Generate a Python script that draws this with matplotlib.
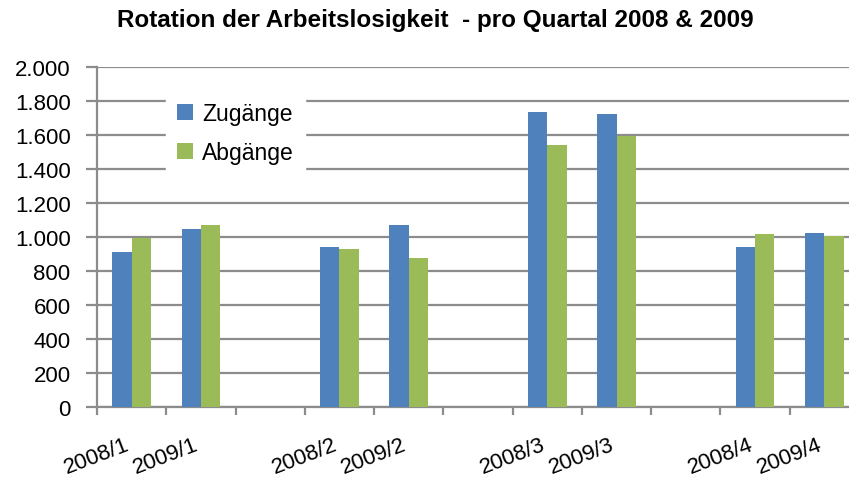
import numpy as np
import matplotlib.pyplot as plt
from matplotlib.transforms import ScaledTranslation

plt.rcParams['font.family'] = ['Liberation Sans', 'DejaVu Sans']

# ---- data ----
categories = ['2008/1', '2009/1', '', '2008/2', '2009/2', '',
              '2008/3', '2009/3', '', '2008/4', '2009/4']
zugaenge = [910, 1047, np.nan, 939, 1069, np.nan, 1733, 1724, np.nan, 939, 1025]
abgaenge = [995, 1071, np.nan, 929, 876, np.nan, 1541, 1596, np.nan, 1016, 1004]
yticks = [0, 200, 400, 600, 800, 1000, 1200, 1400, 1600, 1800, 2000]
ytick_labels = ['0', '200', '400', '600', '800', '1.000', '1.200',
                '1.400', '1.600', '1.800', '2.000']

BLUE = '#4F81BD'
GREEN = '#9BBB59'
GRID = '#8C8C8C'

fig = plt.figure(figsize=(8.49, 4.81), dpi=100)
# axes runs slightly past the right edge, as in the cropped original
ax = fig.add_axes([97 / 849, 73 / 481, 762 / 849, 340 / 481])

x = np.arange(len(categories))
w = 0.28
ax.bar(x - w / 2, zugaenge, w, color=BLUE, label='Zugänge', zorder=3)
ax.bar(x + w / 2, abgaenge, w, color=GREEN, label='Abgänge', zorder=3)

ax.set_xlim(-0.5, len(categories) - 0.5)
ax.set_ylim(0, 2000)
ax.set_yticks(yticks)
ax.set_yticklabels(ytick_labels, fontsize=16)
ax.yaxis.grid(True, color=GRID, lw=1.6, zorder=0)
ax.tick_params(axis='y', length=8, width=1.6, color=GRID, pad=11)

ax.set_xticks(x)
ax.set_xticklabels(categories, fontsize=16, rotation=21, ha='right',
                   rotation_mode='anchor')
ax.tick_params(axis='x', which='major', length=0, pad=19)
shift = ScaledTranslation(-5 / 72, 0, fig.dpi_scale_trans)
for lab in ax.get_xticklabels():
    lab.set_transform(lab.get_transform() + shift)
ax.set_xticks(np.arange(len(categories) + 1) - 0.5, minor=True)
ax.tick_params(axis='x', which='minor', length=6, width=1.6, color=GRID)

for s in ['top', 'right']:
    ax.spines[s].set_visible(False)
for s in ['left', 'bottom']:
    ax.spines[s].set_color(GRID)
    ax.spines[s].set_linewidth(1.6)

leg = ax.legend(loc='upper left', bbox_to_anchor=(0.075, 0.965), fontsize=16.5,
                frameon=True, fancybox=False, edgecolor='white',
                facecolor='white', framealpha=1, handlelength=0.7,
                handleheight=0.7, handletextpad=0.4, labelspacing=0.7,
                borderpad=0.5)
leg.set_zorder(5)

fig.text(0.513, 0.957, 'Rotation der Arbeitslosigkeit  - pro Quartal 2008 & 2009',
         ha='center', va='center', fontsize=17.5, fontweight='bold')

fig.savefig('out.png', dpi=100)
plt.close()
